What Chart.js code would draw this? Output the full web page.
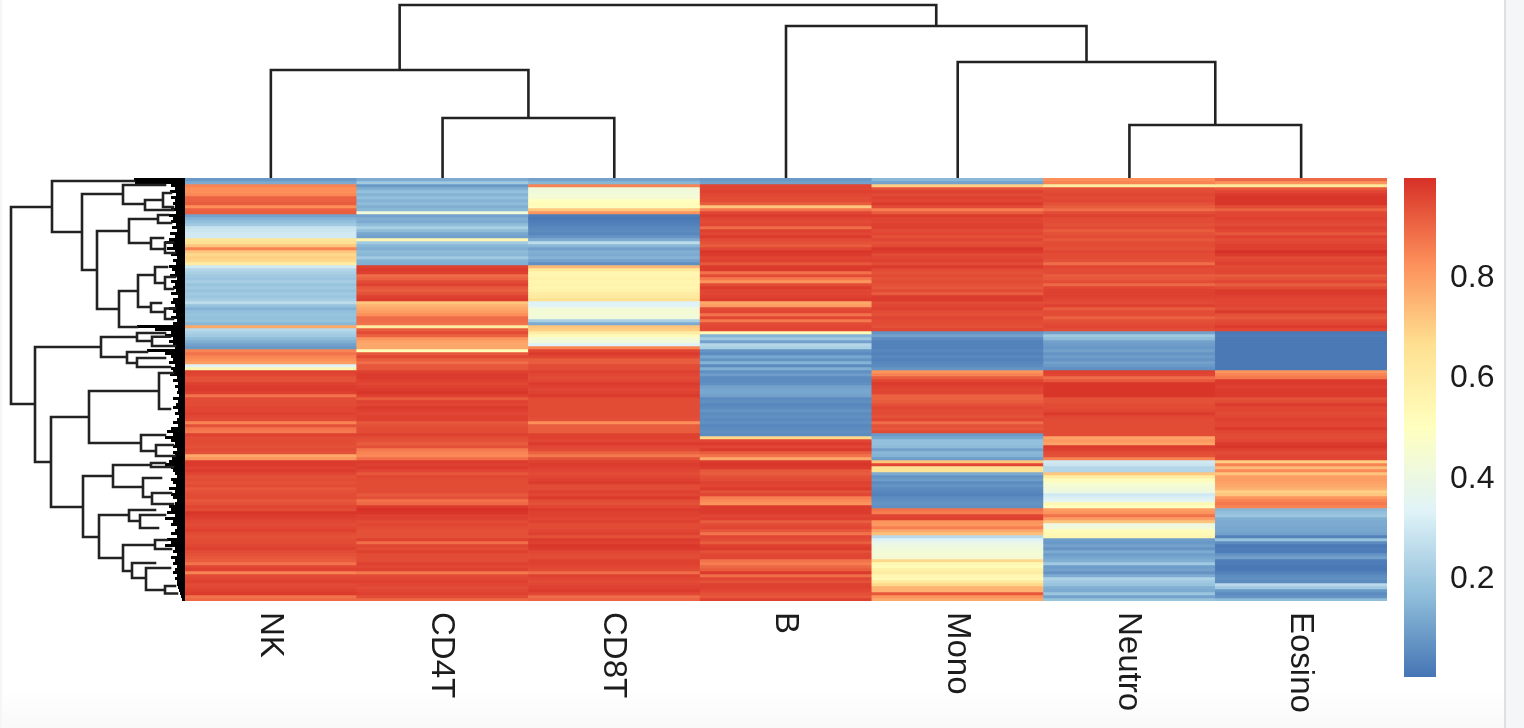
<!DOCTYPE html>
<html>
<head>
<meta charset="utf-8">
<title>Cell type heatmap</title>
<script src="https://cdn.jsdelivr.net/npm/chart.js@4"></script>
<style>
    html, body { margin: 0; padding: 0; background: #f5f6f8; overflow: hidden; }
    #page { position: absolute; left: 2px; top: 0; width: 1502px; height: 728px; background: linear-gradient(#fff 690px, #f9f9f9 728px); border-right: 2px solid #dfe0e2; }
    canvas { position: absolute; }
</style>
</head>
<body>
<div id="page"></div>
<canvas id="col-tree" style="left:185px;top:0" width="1202" height="178"></canvas>
<canvas id="row-tree" style="left:0;top:178px" width="185" height="423"></canvas>
<canvas id="heat" style="left:185px;top:178px" width="1202" height="542"></canvas>
<canvas id="colorbar" style="left:1404px;top:178px" width="96" height="499"></canvas>
<script>
// Columns as ordered by the clustering
const cellTypes = ['NK', 'CD4T', 'CD8T', 'B', 'Mono', 'Neutro', 'Eosino'];

// Methylation value of every row, top to bottom, one list per column
const nk = [
    .08,.12,.85,.83,.83,.84,.91,.91,.92,.83,
    .91,.92,.1,.14,.17,.2,.28,.29,.3,.3,
    .64,.66,.72,.85,.72,.68,.7,.68,.6,.3,
    .24,.22,.2,.19,.21,.18,.2,.18,.2,.19,
    .21,.26,.18,.14,.17,.18,.17,.18,.15,.78,
    .25,.22,.2,.16,.13,.1,.08,.85,.88,.85,
    .83,.8,.33,.55,.97,.96,.94,.94,.97,.98,
    .98,.97,.88,.95,.95,.95,.96,.96,.97,.96,
    .95,.85,.94,.88,.87,.97,.95,.95,.95,.94,
    .95,.94,.78,.82,.98,.98,.97,.98,.96,.94,
    .95,.94,.95,.93,.94,.95,.95,.93,.94,.96,
    .95,.99,.98,.97,.96,.95,.96,.97,.95,.94,
    .95,.95,.96,.97,.95,.94,.93,.92,.88,.96,
    .97,.85,.95,.96,.97,.95,.96,.97,.98,.88,.9
];
const cd4t = [
    .12,.2,.08,.13,.17,.14,.17,.14,.16,.13,
    .15,.42,.1,.13,.12,.16,.22,.16,.11,.1,
    .55,.2,.15,.13,.16,.15,.2,.14,.13,.97,
    .98,.97,.89,.91,.95,.97,.93,.92,.94,.97,
    .98,.72,.76,.78,.8,.83,.89,.89,.88,.6,
    .92,.95,.91,.82,.79,.78,.78,.52,.93,.96,
    .92,.89,.93,.93,.97,.98,.98,.97,.96,.97,
    .98,.99,.97,.92,.97,.96,.98,.97,.96,.97,
    .97,.93,.94,.95,.95,.97,.95,.94,.92,.94,
    .87,.85,.84,.89,.98,.97,.98,.96,.93,.96,
    .95,.95,.95,.95,.95,.93,.94,.88,.9,.98,
    1,.99,.97,.97,.95,.96,.95,.94,.94,.94,
    .97,.89,.96,.95,.97,.95,.95,.95,.97,.96,
    .97,.87,.95,.96,.97,.96,.95,.96,.97,.95,.9
];
const cd8t = [
    .1,.15,.85,.42,.42,.43,.44,.5,.52,.51,
    .72,.82,.02,.01,.02,.03,.04,.05,.04,.07,
    .12,.26,.15,.1,.13,.12,.14,.1,.06,.75,
    .62,.55,.55,.57,.55,.56,.55,.57,.6,.61,
    .66,.33,.34,.42,.44,.43,.42,.22,.12,.72,
    .7,.6,.53,.44,.42,.33,.85,.96,.98,.96,
    .92,.92,.95,.95,.97,.96,.95,.96,.98,.97,
    .96,.97,.98,.95,.95,.95,.95,.95,.95,.95,
    .94,.83,.92,.92,.92,.97,.97,.96,.98,.96,
    .95,.91,.87,.94,.97,.98,.97,.96,.95,.96,
    .97,.98,.95,.95,.97,.96,.98,.95,.94,.96,
    .98,.97,.97,.96,.97,.95,.95,.96,.97,.94,
    .98,.97,.99,.98,.96,.95,.95,.97,.97,.96,
    .95,.89,.97,.96,.95,.96,.97,.98,.96,.89,.91
];
const bCells = [
    .08,.1,.96,.96,.97,.96,.95,.95,.92,.72,
    .88,.96,.98,.96,.95,.96,.89,.97,.96,.98,
    .95,.94,.92,.96,.99,.98,.96,.97,.93,.98,
    .98,.88,.95,.87,.82,.95,.98,.96,.96,.97,
    .98,.78,.8,.95,.96,.88,.96,.87,.95,.96,
    .96,.54,.14,.2,.1,.24,.22,.07,.05,.11,
    .07,.14,.05,.13,.06,.09,.05,.05,.06,.1,
    .11,.11,.1,.05,.06,.04,.05,.07,.05,.06,
    .05,.06,.04,.05,.06,.05,.68,.96,.98,.96,
    .98,.92,.88,.78,.98,.99,.98,.93,.92,.94,
    .95,.97,.96,.98,.94,.96,.86,.84,.82,.98,
    .98,.98,.96,.97,.92,.95,.96,.93,.88,.96,
    .95,.92,.97,.98,.94,.96,.96,.88,.86,.9,
    .92,.98,.89,.96,.94,.97,.97,.96,.94,.93,.97
];
const mono = [
    .15,.1,.7,.94,.97,.95,.97,.96,.98,.95,
    .86,.92,.98,.96,.96,.97,.97,.95,.96,.94,
    .96,.94,.95,.99,.98,.95,.96,.97,.95,.98,
    .95,.94,.95,.94,.95,.94,.93,.95,.92,.98,
    .98,.95,.96,.97,.95,.94,.96,.95,.95,.94,
    .96,.07,.1,.05,.03,.03,.03,.04,.03,.04,
    .03,.04,.05,.07,.82,.85,.92,.96,.98,.97,
    .96,.96,.91,.91,.92,.94,.96,.95,.95,.94,
    .96,.89,.94,.93,.95,.08,.11,.17,.17,.16,
    .1,.15,.14,.09,.72,.96,.65,.65,.12,.07,
    .09,.05,.07,.05,.04,.03,.05,.06,.07,.06,
    .88,.86,.96,.97,.82,.81,.86,.78,.73,.25,
    .33,.38,.4,.42,.43,.44,.44,.68,.54,.52,
    .58,.6,.55,.53,.62,.68,.76,.76,.93,.82,.78
];
const neutro = [
    .83,.85,.6,.94,.95,.96,.95,.96,.94,.92,
    .89,.95,.97,.95,.95,.94,.95,.92,.94,.95,
    .93,.95,.95,.94,.96,.95,.95,.94,.89,.96,
    .95,.95,.92,.93,.95,.9,.96,.97,.97,.97,
    .96,.95,.97,.92,.95,.95,.91,.94,.95,.96,
    .95,.1,.2,.16,.1,.09,.08,.1,.07,.09,
    .07,.1,.08,.06,.97,.96,.89,.93,.99,.99,
    .99,.99,.99,.94,.94,.95,.95,.96,.98,.96,
    .95,.95,.95,.95,.95,.95,.79,.81,.79,.98,
    .97,.95,.94,.85,.3,.29,.24,.24,.72,.6,
    .52,.47,.44,.42,.4,.3,.32,.36,.54,.5,
    .8,.82,.88,.8,.72,.4,.42,.52,.53,.55,
    .09,.08,.1,.07,.12,.09,.11,.13,.2,.09,
    .1,.07,.12,.23,.2,.18,.13,.12,.19,.1,.18
];
const eosino = [
    .9,.82,.62,.93,.96,.98,.99,.99,.99,.95,
    .91,.96,.96,.97,.96,.95,.97,.96,.93,.97,
    .95,.96,.97,.97,1,.98,.95,.96,.97,.95,
    .96,.96,.92,.94,.96,.92,.95,.98,.98,.97,
    .96,.96,.96,.95,.98,.94,.93,.95,.96,.98,
    .96,.01,.02,.01,.01,.01,.01,.01,.01,.01,
    .01,.01,.01,.01,.82,.85,.87,.98,.98,.97,
    .98,.98,.98,.94,.95,.98,.96,.96,.95,.96,
    .97,.96,.96,.98,.96,.95,.95,.96,.98,.99,
    .97,.95,.96,.96,.7,.85,.74,.84,.72,.8,
    .8,.79,.78,.76,.7,.72,.82,.85,.87,.85,
    .15,.17,.19,.13,.12,.12,.11,.11,.1,.03,
    .18,.05,.01,.02,.02,.07,.1,.02,.02,.01,
    .01,.03,.05,.06,.05,.25,.2,.08,.05,.07,.16
];
const columns = [nk, cd4t, cd8t, bCells, mono, neutro, eosino];

// Column dendrogram merges: left, right, height, left child height, right child height
const colMerges = [
    [1, 2, .60, 0, 0],
    [0, 1.5, 1.08, 0, .60],
    [5, 6, .53, 0, 0],
    [4, 5.5, 1.16, 0, .53],
    [3, 4.75, 1.52, 0, 1.16],
    [.75, 3.875, 1.73, 1.08, 1.52]
];

// Row dendrogram merges: top row, bottom row, distance, top child distance, bottom child distance
const rowMerges = [
    [9.67, 75.33, 1.74, 1.33, 1.50],
    [1, 18, 1.33, .51, 1.03],
    [5.33, 30.67, 1.03, .62, .88],
    [2.33, 8.67, .62, .2, .40],
    [7.33, 10.67, .40, .22, .12],
    [5, 9.67, .22, .14, .12],
    [17.67, 43.67, .88, .56, .66],
    [13.67, 21.67, .56, .27, .34],
    [12.33, 15, .27, .17, .14],
    [20, 23.67, .34, .22, .2],
    [21.5, 25, .2, .12, .1],
    [37.67, 49.67, .66, .47, .48],
    [32.33, 43, .47, .30, .34],
    [29.67, 35, .30, .18, .2],
    [33, 37, .2, .1, .12],
    [41.67, 44.67, .34, .24, .2],
    [43.5, 47, .2, .1, .12],
    [56.33, 94.67, 1.50, .84, 1.34],
    [53, 59.67, .84, .48, .58],
    [51.67, 54.33, .48, .2, .33],
    [52.9, 56, .33, .15, .1],
    [58, 61.67, .58, .38, .48],
    [60, 63, .48, .2, .15],
    [79.67, 109.67, 1.34, .96, 1.02],
    [71, 88.33, .96, .26, .44],
    [65, 77, .26, .12, .15],
    [85.67, 91, .44, .2, .29],
    [89, 92.67, .29, .12, .1],
    [99.33, 119.67, 1.02, .72, .86],
    [95.67, 103, .72, .34, .42],
    [95, 96.33, .34, .2, .12],
    [100, 106.33, .42, .24, .33],
    [105, 108.67, .33, .14, .12],
    [112.33, 126.67, .86, .56, .62],
    [110.67, 114.33, .56, .3, .45],
    [112.33, 116.67, .45, .2, .27],
    [122.33, 131, .62, .30, .53],
    [120.67, 123.67, .30, .18, .14],
    [128.33, 133.33, .53, .3, .39],
    [130, 137.33, .39, .15, .2],
    [136, 138.5, .2, .1, .08]
];

// Distance at which every single row joins the tree
const leafDist = [
    .51,.5,.14,.1,.15,.09,.14,.1,.12,.1,
    .14,.09,.16,.12,.14,.09,.13,.08,.15,.1,
    .16,.2,.12,.18,.1,.14,.08,.12,.09,.16,
    .13,.1,.15,.08,.14,.1,.12,.09,.14,.07,
    .12,.14,.1,.16,.12,.09,.14,.08,.12,.48,
    .3,.14,.2,.12,.16,.12,.1,.38,.2,.14,
    .12,.16,.1,.14,.12,.15,.08,.12,.07,.1,
    .07,.08,.06,.12,.07,.09,.12,.07,.1,.06,
    .08,.12,.07,.14,.18,.12,.2,.14,.1,.12,
    .08,.12,.1,.13,.16,.2,.14,.12,.1,.08,
    .14,.12,.09,.16,.1,.14,.12,.08,.1,.16,
    .14,.18,.1,.2,.12,.14,.08,.1,.14,.08,
    .18,.14,.2,.1,.12,.08,.14,.1,.12,.08,
    .1,.12,.08,.1,.08,.08,.07,.06,.05,.04,.03
];

// Colour bar
const colorMin = .005;
const colorMax = 1;
const colorTicks = [.2, .4, .6, .8];
const rampColors = ['#4575B4', '#91BFDB', '#E0F3F8', '#FFFFBF', '#FEE090', '#FC8D59', '#D73027'];

const columnFont = '33px "Liberation Sans"';
const textColor = '#1c1c1c';
const treeColor = '#222';
const rowCount = nk.length;

// Look up a value on the RdYlBu ramp
function valueColor(v) {
    const rgb = rampColors.map(c => [1, 3, 5].map(i => parseInt(c.slice(i, i + 2), 16)));
    const pos = Math.min(Math.max(v, 0), 1) * (rgb.length - 1);
    const i = Math.min(Math.floor(pos), rgb.length - 2);
    const t = pos - i;
    const mix = [0, 1, 2].map(k => Math.round(rgb[i][k] + (rgb[i + 1][k] - rgb[i][k]) * t));
    return `rgb(${mix[0]},${mix[1]},${mix[2]})`;
}

const hiddenAxis = (min, max, reverse) => ({ type: 'linear', display: false, min: min, max: max, reverse: !!reverse });
const plainOptions = {
    responsive: false,
    animation: false,
    devicePixelRatio: 1,
    events: [],
    layout: { padding: 0 },
    plugins: { legend: { display: false }, tooltip: { enabled: false } }
};
const treeLine = (data, width) => ({
    data: data,
    showLine: true,
    pointRadius: 0,
    borderColor: treeColor,
    borderWidth: width,
    borderJoinStyle: 'miter',
    borderCapStyle: 'square',
    tension: 0,
    spanGaps: false,
    clip: false
});

// Column dendrogram
const colPoints = [];
colMerges.forEach(([x1, x2, h, h1, h2]) => {
    colPoints.push({ x: x1, y: h1 }, { x: x1, y: h }, { x: x2, y: h }, { x: x2, y: h2 }, { x: null, y: null });
});
new Chart(document.getElementById('col-tree'), {
    type: 'scatter',
    data: { datasets: [treeLine(colPoints, 2.6)] },
    options: { ...plainOptions, scales: { x: hiddenAxis(-.5, 6.5), y: hiddenAxis(0, 1.78) } }
});

// Row dendrogram, with the leaves as one broken line
const rowPoints = [];
rowMerges.forEach(([r1, r2, d, d1, d2]) => {
    rowPoints.push({ x: d1, y: r1 }, { x: d, y: r1 }, { x: d, y: r2 }, { x: d2, y: r2 }, { x: null, y: null });
});
const leafPoints = [];
leafDist.forEach((d, i) => {
    leafPoints.push({ x: d, y: i + .5 }, { x: 0, y: i + .5 }, { x: null, y: null });
});
new Chart(document.getElementById('row-tree'), {
    type: 'scatter',
    data: { datasets: [treeLine(rowPoints, 2.6), { ...treeLine(leafPoints, 3), borderColor: '#000', borderCapStyle: 'butt' }] },
    options: { ...plainOptions, scales: { x: hiddenAxis(0, 1.85, true), y: hiddenAxis(0, rowCount, true) } }
});

// Column names run downwards, the tick options only rotate them the other way
const columnLabels = {
    id: 'columnLabels',
    afterDraw(chart) {
        const ctx = chart.ctx;
        const scale = chart.scales.x;
        ctx.save();
        ctx.font = columnFont;
        ctx.fillStyle = textColor;
        ctx.textAlign = 'left';
        ctx.textBaseline = 'middle';
        cellTypes.forEach((name, i) => {
            ctx.save();
            ctx.translate(scale.getPixelForValue(i) - 1, chart.chartArea.bottom + 11);
            ctx.rotate(Math.PI / 2);
            ctx.fillText(name, 0, 0);
            ctx.restore();
        });
        ctx.restore();
    }
};

// Heatmap: one dataset of floating bars per row
const heatRows = [];
for (let r = 0; r < rowCount; r++) {
    heatRows.push({
        data: cellTypes.map(() => [r, r + 1]),
        backgroundColor: columns.map(col => valueColor(col[r])),
        borderWidth: 0,
        grouped: false,
        barPercentage: 1,
        categoryPercentage: 1
    });
}
new Chart(document.getElementById('heat'), {
    type: 'bar',
    data: { labels: cellTypes, datasets: heatRows },
    options: {
        ...plainOptions,
        layout: { padding: { bottom: 119 } },
        scales: {
            x: { type: 'category', display: false },
            y: hiddenAxis(0, rowCount, true)
        }
    },
    plugins: [columnLabels]
});

// Colour bar with its own value axis
new Chart(document.getElementById('colorbar'), {
    type: 'bar',
    data: {
        labels: ['value'],
        datasets: [{
            data: [[colorMin, colorMax]],
            borderWidth: 0,
            barPercentage: 1,
            categoryPercentage: 1,
            backgroundColor: function(context) {
                const area = context.chart.chartArea;
                if (!area) return rampColors[0];
                const gradient = context.chart.ctx.createLinearGradient(0, area.bottom, 0, area.top);
                rampColors.forEach((c, i) => gradient.addColorStop(i / (rampColors.length - 1), c));
                return gradient;
            }
        }]
    },
    options: {
        ...plainOptions,
        scales: {
            x: { display: false },
            y: {
                position: 'right',
                min: colorMin,
                max: colorMax,
                afterFit: scale => {
                    // keep the bar at full height, the labels never reach its ends
                    scale.width = 64;
                    scale.paddingTop = 0;
                    scale.paddingBottom = 0;
                },
                afterBuildTicks: scale => { scale.ticks = colorTicks.map(v => ({ value: v })); },
                border: { display: false },
                grid: { display: false, drawTicks: false },
                ticks: {
                    padding: 14,
                    color: textColor,
                    font: { family: 'Liberation Sans', size: 32 },
                    callback: v => v.toFixed(1)
                }
            }
        }
    }
});
</script>
</body>
</html>
